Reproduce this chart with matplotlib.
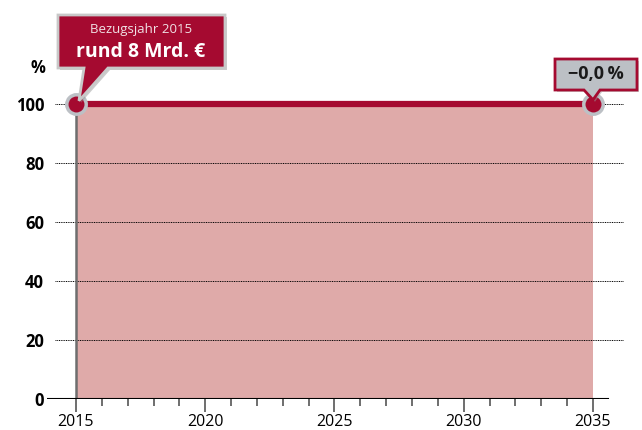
import numpy as np
import matplotlib.pyplot as plt
from matplotlib.patches import Polygon

plt.rcParams['font.family'] = ['Open Sans', 'DejaVu Sans']

# datos del gráfico
jahre = [2015, 2035]
werte = [100, 100]
y_ticks = [0, 20, 40, 60, 80, 100]
x_ticks = [2015, 2020, 2025, 2030, 2035]
minor_ticks = list(range(2016, 2035))
text_basis = ['Bezugsjahr 2015', 'rund 8 Mrd. €']
text_ende = '\u22120,0\u2009%'

rot = '#a50a30'
rosa = '#dfaaa9'
grau = '#bcc0c5'

W, H = 642, 430
fig = plt.figure(figsize=(W / 100, H / 100), dpi=100)

# posición de los ejes en pixeles: izquierda 47, derecha 624, abajo 399, arriba 89
ax = fig.add_axes([47 / W, 1 - 399 / H, (624 - 47) / W, (399 - 89) / H])
ax.set_xlim(2013.88, 2036.2)
ax.set_ylim(0, 105)
for s in ax.spines.values():
    s.set_visible(False)

# área y línea
ax.fill_between(jahre, 0, werte, color=rosa, lw=0, zorder=1)
for y in y_ticks[1:]:
    ax.hlines(y, 2014.19, 2036.2, colors='black', linestyles=(0, (1, 0.8)), lw=0.7, zorder=2)
ax.plot(jahre, werte, color=rot, lw=4.5, zorder=3, solid_capstyle='butt')
ax.vlines(jahre[0], 0, werte[0], colors='#6e6e6e', lw=1.8, zorder=3)
ax.plot(jahre, werte, 'o', ms=14, mfc=rot, mec=grau, mew=2.5, zorder=5, clip_on=False)
ax.axhline(0, xmin=0, xmax=(2035.58 - 2013.88) / (2036.2 - 2013.88), color='black', lw=1.5, zorder=4)

ax.set_yticks(y_ticks)
ax.set_yticklabels([str(v) for v in y_ticks], fontsize=12, fontweight='bold')
ax.tick_params(axis='y', length=0, pad=2)
ax.set_xticks(x_ticks)
ax.set_xticklabels([str(v) for v in x_ticks], fontsize=11.5)
ax.set_xticks(minor_ticks, minor=True)
ax.tick_params(axis='x', which='major', length=9, width=1.2, color='#555555', pad=1.5, direction='out')
ax.tick_params(axis='x', which='minor', length=5, width=1.2, color='#555555', direction='out')

fig.text(38 / W, 1 - 68 / H, '%', fontsize=12, fontweight='bold', ha='center', va='center')


def px(x, y):
    return (x, H - y)


def punkt(i):
    xp, yp = ax.transData.transform((jahre[i], werte[i]))
    return xp, H - yp


# sprechblase links
x0, y0 = punkt(0)
links = [(58, 15), (225, 15), (225, 68), (108, 68), (x0 + 3, y0 - 3), (84, 68), (58, 68)]
schatten = Polygon([px(x + 2, y + 2) for x, y in links], closed=True, transform=None,
                   fc='#9a9a9a', ec='none', alpha=0.5, zorder=6)
blase = Polygon([px(x, y) for x, y in links], closed=True, transform=None,
                fc=rot, ec='#c8c8c8', lw=2, zorder=7, joinstyle='miter')
fig.add_artist(schatten)
fig.add_artist(blase)
fig.text(141 / W, 1 - 29 / H, text_basis[0], fontsize=9.5, color='#f0e0e4', ha='center', va='center', zorder=8)
fig.text(141 / W, 1 - 52 / H, text_basis[1], fontsize=14, fontweight='bold', color='white', ha='center', va='center', zorder=8)

# sprechblase rechts
x1, y1 = punkt(1)
rechts = [(555, 59), (637, 59), (637, 90), (600, 90), (x1, y1 - 4), (584, 90), (555, 90)]
schatten2 = Polygon([px(x + 2, y + 2) for x, y in rechts], closed=True, transform=None,
                    fc='#9a9a9a', ec='none', alpha=0.5, zorder=6)
blase2 = Polygon([px(x, y) for x, y in rechts], closed=True, transform=None,
                 fc=grau, ec=rot, lw=2, zorder=7, joinstyle='miter')
fig.add_artist(schatten2)
fig.add_artist(blase2)
fig.text(596 / W, 1 - 74 / H, text_ende, fontsize=13, fontweight='bold', color='#1a1a1a', ha='center', va='center', zorder=8)

fig.savefig('out.png', dpi=100)
